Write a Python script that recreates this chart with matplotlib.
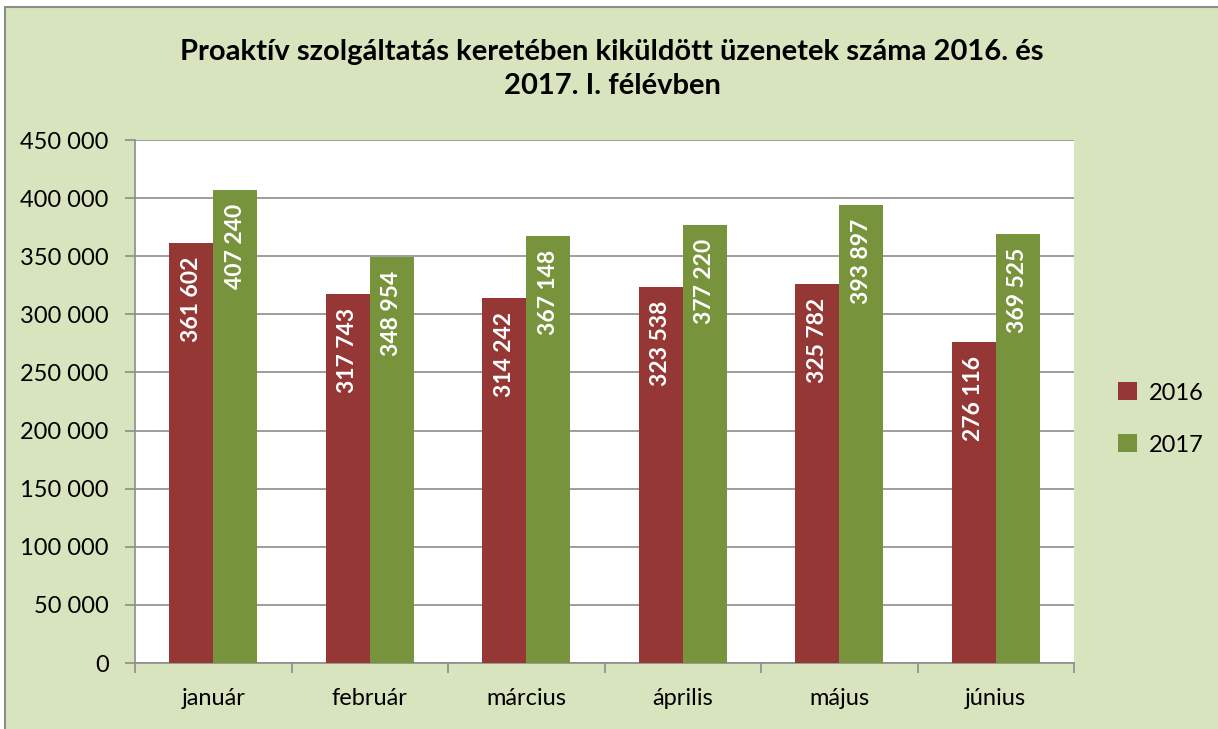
import matplotlib.pyplot as plt
import matplotlib.patches as mpatches
import numpy as np

months = ["január", "február", "március", "április", "május", "június"]
values_2016 = [361602, 317743, 314242, 323538, 325782, 276116]
values_2017 = [407240, 348954, 367148, 377220, 393897, 369525]
y_ticks = list(range(0, 450001, 50000))
title = "Proaktív szolgáltatás keretében kiküldött üzenetek száma 2016. és\n2017. I. félévben"

FONT = "Lato"
RED = "#953735"
GREEN = "#77933C"
BG = "#D7E4BD"
GRID = "#8C8C8C"

W, H = 1218, 729
fig = plt.figure(figsize=(W / 100, H / 100), dpi=100)
fig.patch.set_facecolor("white")

# chart frame (light green, border only on top/left visible)
frame = mpatches.Rectangle((5 / W, -0.05), 1.1, (H - 7) / H + 0.05, transform=fig.transFigure,
                           facecolor=BG, edgecolor=GRID, linewidth=1.5, zorder=-10)
fig.patches.append(frame)

ax = fig.add_axes([135 / W, (H - 663) / H, (1074 - 135) / W, (663 - 140) / H])
ax.set_facecolor("white")

x = np.arange(len(months))
bw = 0.28
b1 = ax.bar(x - bw / 2, values_2016, bw, color=RED, label="2016", zorder=3)
b2 = ax.bar(x + bw / 2, values_2017, bw, color=GREEN, label="2017", zorder=3)

def fmt(v):
    return f"{v:,}".replace(",", " ")

for bars, vals in ((b1, values_2016), (b2, values_2017)):
    for rect, v in zip(bars, vals):
        ax.annotate(fmt(v), (rect.get_x() + rect.get_width() / 2, v),
                    xytext=(0, -10), textcoords="offset points",
                    rotation=90, ha="center", va="top", color="white",
                    fontsize=16.5, fontweight="bold", family=FONT, zorder=4)

ax.set_xlim(-0.5, len(months) - 0.5)
ax.set_ylim(0, 450000)
ax.set_yticks(y_ticks)
ax.set_yticklabels([fmt(t) for t in y_ticks], family=FONT, fontsize=17)
ax.yaxis.grid(True, color=GRID, linewidth=1.2, zorder=0)
ax.set_axisbelow(True)

ax.set_xticks(x)
ax.set_xticklabels(months, family=FONT, fontsize=17)
ax.tick_params(axis="x", length=0, pad=18)
ax.set_xticks(np.arange(-0.5, len(months), 1), minor=True)
ax.tick_params(axis="x", which="minor", length=7, color=GRID, width=1.2)
ax.tick_params(axis="y", length=7, color=GRID, width=1.2, pad=12)

for side in ("top", "right"):
    ax.spines[side].set_visible(False)
for side in ("left", "bottom"):
    ax.spines[side].set_color(GRID)
    ax.spines[side].set_linewidth(1.2)

fig.text(612 / W, 1 - 69 / H, title, ha="center", va="center", fontsize=21,
         fontweight="bold", family=FONT, linespacing=1.4)

fig.legend(handles=[b1, b2], loc="center left", bbox_to_anchor=(1097 / W, 1 - 419 / H),
           frameon=False, prop={"family": FONT, "size": 17},
           handlelength=0.8, handleheight=0.8, handletextpad=0.5, labelspacing=1.3)

fig.savefig("out.png", dpi=100, facecolor=fig.get_facecolor())
